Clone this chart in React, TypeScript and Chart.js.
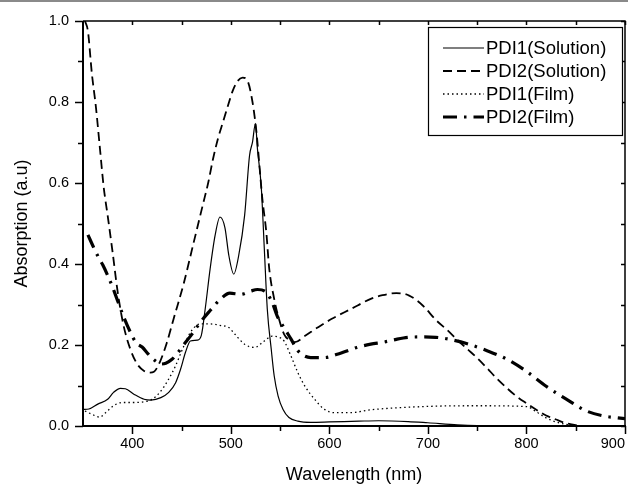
import React, { useEffect, useRef } from "react";
import { Chart, registerables } from "chart.js";

Chart.register(...registerables);

// ---- Data (wavelength in nm, absorption in a.u.) ----
const wlPdi1Sol = [350, 356, 365, 375, 381, 388, 393, 402, 412, 419, 429, 437, 444, 449, 454, 459, 466, 470, 474, 479, 484, 489, 494, 498, 503, 508, 514, 519, 522, 525, 527, 531, 534, 537, 541, 544, 548, 553, 559, 568, 581, 600, 630, 650, 680, 700, 730, 750, 800, 850, 900];
const absPdi1Sol = [0.041, 0.042, 0.054, 0.066, 0.083, 0.093, 0.092, 0.078, 0.066, 0.064, 0.07, 0.083, 0.107, 0.14, 0.182, 0.21, 0.212, 0.223, 0.289, 0.388, 0.47, 0.516, 0.49, 0.421, 0.375, 0.421, 0.52, 0.668, 0.701, 0.747, 0.685, 0.586, 0.437, 0.289, 0.19, 0.124, 0.074, 0.041, 0.021, 0.012, 0.009, 0.01, 0.012, 0.013, 0.011, 0.008, 0.003, 0.001, 0, 0, 0];

const wlPdi2Sol = [352, 355, 359, 363, 367, 371, 375, 380, 385, 391, 398, 405, 412, 418, 422, 428, 435, 442, 452, 462, 467, 472, 477, 482, 487, 492, 497, 502, 507, 512, 517, 522, 526, 529, 532, 536, 539, 544, 548, 554, 561, 565, 575, 588, 602, 622, 642, 654, 668, 681, 695, 708, 720, 730, 740, 750, 760, 770, 780, 790, 800, 810, 820, 830, 840, 850, 860, 900];
const absPdi2Sol = [1.0, 0.975, 0.87, 0.79, 0.69, 0.59, 0.52, 0.43, 0.334, 0.25, 0.19, 0.153, 0.136, 0.132, 0.134, 0.158, 0.205, 0.265, 0.35, 0.45, 0.5, 0.55, 0.6, 0.66, 0.71, 0.75, 0.79, 0.828, 0.852, 0.86, 0.852, 0.8, 0.726, 0.644, 0.561, 0.479, 0.388, 0.314, 0.272, 0.227, 0.21, 0.207, 0.222, 0.243, 0.264, 0.289, 0.314, 0.323, 0.328, 0.322, 0.297, 0.262, 0.236, 0.212, 0.19, 0.168, 0.143, 0.117, 0.094, 0.073, 0.056, 0.04, 0.026, 0.016, 0.007, 0.002, 0, 0];

const wlPdi1Film = [352, 359, 367, 373, 381, 390, 400, 410, 420, 428, 437, 444, 451, 459, 469, 479, 490, 498, 504, 514, 524, 534, 542, 549, 554, 561, 568, 575, 585, 595, 605, 622, 642, 670, 708, 750, 800, 810, 820, 830, 840, 850, 870, 900];
const absPdi1Film = [0.037, 0.029, 0.022, 0.033, 0.05, 0.058, 0.058, 0.059, 0.066, 0.083, 0.116, 0.149, 0.19, 0.231, 0.252, 0.252, 0.248, 0.243, 0.227, 0.202, 0.194, 0.21, 0.222, 0.219, 0.21, 0.173, 0.132, 0.099, 0.066, 0.041, 0.033, 0.033, 0.04, 0.045, 0.049, 0.05, 0.048, 0.035, 0.02, 0.01, 0.004, 0.001, 0, 0];

const wlPdi2Film = [355, 360, 365, 370, 375, 380, 385, 392, 398, 404, 410, 416, 420, 425, 429, 434, 440, 446, 452, 460, 469, 479, 489, 499, 510, 520, 527, 535, 542, 547, 554, 561, 568, 581, 595, 608, 628, 642, 655, 668, 681, 695, 708, 720, 740, 760, 780, 800, 820, 840, 860, 880, 890, 900];
const absPdi2Film = [0.472, 0.445, 0.42, 0.398, 0.372, 0.343, 0.31, 0.265, 0.232, 0.205, 0.195, 0.178, 0.168, 0.158, 0.153, 0.155, 0.164, 0.18, 0.2, 0.225, 0.256, 0.285, 0.312, 0.328, 0.325, 0.333, 0.337, 0.332, 0.305, 0.272, 0.243, 0.215, 0.186, 0.169, 0.169, 0.177, 0.194, 0.202, 0.207, 0.214, 0.219, 0.22, 0.219, 0.215, 0.203, 0.186, 0.165, 0.135, 0.098, 0.067, 0.038, 0.024, 0.021, 0.018];

const seriesLabels = ["PDI1(Solution)", "PDI2(Solution)", "PDI1(Film)", "PDI2(Film)"];

// Tick values
const xLabelTicks = [350, 400, 500, 600, 700, 800, 900];
const xMajorTicks = [400, 500, 600, 700, 800, 900];
const xMinorTicks = [450, 550, 650, 750, 850];
const yMajorTicks = [0, 0.2, 0.4, 0.6, 0.8, 1.0];
const yMinorTicks = [0.1, 0.3, 0.5, 0.7, 0.9];

const FONT = "'Liberation Sans', Arial, Helvetica, sans-serif";

const toPoints = (xs: number[], ys: number[]) => xs.map((x, i) => ({ x, y: ys[i] }));

const framePlugin = {
  id: "frameTicks",
  afterDatasetsDraw(chart: any) {
    const { ctx, chartArea: a, scales } = chart;
    const x = scales.x;
    const y = scales.y;
    ctx.save();
    ctx.strokeStyle = "#000";
    ctx.lineCap = "butt";
    ctx.lineWidth = 1.5;
    ctx.beginPath();
    ctx.moveTo(a.left, a.top);
    ctx.lineTo(a.right, a.top);
    ctx.lineTo(a.right, a.bottom);
    ctx.stroke();
    ctx.lineWidth = 2;
    ctx.beginPath();
    ctx.moveTo(a.left, a.top);
    ctx.lineTo(a.left, a.bottom);
    ctx.lineTo(a.right + 1, a.bottom);
    ctx.stroke();

    ctx.lineWidth = 1.5;
    ctx.beginPath();
    xMajorTicks.forEach((v) => {
      const px = Math.round(x.getPixelForValue(v)) + 0.5;
      ctx.moveTo(px, a.bottom);
      ctx.lineTo(px, a.bottom + 8);
      ctx.moveTo(px, a.top);
      ctx.lineTo(px, a.top + 4);
    });
    xMinorTicks.forEach((v) => {
      const px = Math.round(x.getPixelForValue(v)) + 0.5;
      ctx.moveTo(px, a.bottom);
      ctx.lineTo(px, a.bottom + 5);
      ctx.moveTo(px, a.top);
      ctx.lineTo(px, a.top + 4);
    });
    yMajorTicks.forEach((v) => {
      const py = Math.round(y.getPixelForValue(v)) + 0.5;
      ctx.moveTo(a.left, py);
      ctx.lineTo(a.left - 8, py);
      ctx.moveTo(a.right, py);
      ctx.lineTo(a.right - 4, py);
    });
    yMinorTicks.forEach((v) => {
      const py = Math.round(y.getPixelForValue(v)) + 0.5;
      ctx.moveTo(a.left, py);
      ctx.lineTo(a.left - 5, py);
      ctx.moveTo(a.right, py);
      ctx.lineTo(a.right - 4, py);
    });
    ctx.stroke();

    ctx.fillStyle = "#8a8a8a";
    ctx.fillRect(0, 0, chart.width, 2);
    ctx.restore();
  },
  afterDraw(chart: any) {
    const { ctx, chartArea: a } = chart;
    const boxL = a.right - 197;
    const boxT = a.top + 6;
    const boxW = 194;
    const boxH = 108;
    ctx.save();
    ctx.fillStyle = "#fff";
    ctx.fillRect(boxL, boxT, boxW, boxH);
    ctx.strokeStyle = "#000";
    ctx.lineWidth = 1.2;
    ctx.strokeRect(boxL + 0.5, boxT + 0.5, boxW, boxH);
    ctx.font = `18.5px ${FONT}`;
    ctx.textBaseline = "middle";
    ctx.textAlign = "left";
    ctx.fillStyle = "#000";
    chart.data.datasets.forEach((ds: any, i: number) => {
      const rowY = boxT + 21 + i * 23;
      ctx.beginPath();
      ctx.lineWidth = ds.borderWidth;
      ctx.setLineDash(ds.borderDash || []);
      ctx.moveTo(boxL + 15, rowY);
      ctx.lineTo(boxL + 56, rowY);
      ctx.stroke();
      ctx.setLineDash([]);
      ctx.fillText(ds.label, boxL + 58, rowY + 1);
    });
    ctx.restore();
  },
};

export default function App() {
  const canvasRef = useRef<HTMLCanvasElement | null>(null);

  useEffect(() => {
    if (!canvasRef.current) return;
    const common = {
      borderColor: "#000",
      backgroundColor: "#000",
      pointRadius: 0,
      fill: false,
      cubicInterpolationMode: "monotone" as const,
      borderCapStyle: "butt" as const,
    };
    const chart = new Chart(canvasRef.current, {
      type: "line",
      data: {
        datasets: [
          { ...common, label: seriesLabels[0], data: toPoints(wlPdi1Sol, absPdi1Sol), borderWidth: 1.2, borderDash: [] },
          { ...common, label: seriesLabels[1], data: toPoints(wlPdi2Sol, absPdi2Sol), borderWidth: 1.8, borderDash: [9, 5] },
          { ...common, label: seriesLabels[2], data: toPoints(wlPdi1Film, absPdi1Film), borderWidth: 1.3, borderDash: [1.5, 3] },
          { ...common, label: seriesLabels[3], data: toPoints(wlPdi2Film, absPdi2Film), borderWidth: 3.2, borderDash: [14, 7, 2.5, 7] },
        ],
      },
      options: {
        responsive: false,
        animation: false,
        devicePixelRatio: 1,
        layout: { padding: { top: 21, right: 3, left: 0, bottom: 0 } },
        plugins: { legend: { display: false }, tooltip: { enabled: false } },
        scales: {
          x: {
            type: "linear",
            min: 350,
            max: 900,
            grid: { display: false, drawTicks: false },
            border: { display: false },
            afterBuildTicks: (s: any) => {
              s.ticks = xLabelTicks.map((v) => ({ value: v }));
            },
            afterFit: (s: any) => {
              s.height = 58;
              s.paddingLeft = 0;
              s.paddingRight = 0;
            },
            ticks: {
              color: "#000",
              padding: 9,
              align: "inner",
              maxRotation: 0,
              autoSkip: false,
              font: { family: FONT, size: 14.5 },
              callback: (v: any) => (Number(v) === 350 ? "" : String(v)),
            },
            title: {
              display: true,
              text: "Wavelength (nm)",
              color: "#000",
              font: { family: FONT, size: 18, lineHeight: 1 },
              padding: { top: 0, bottom: 0 },
            },
          },
          y: {
            type: "linear",
            min: 0,
            max: 1,
            grid: { display: false, drawTicks: false },
            border: { display: false },
            afterBuildTicks: (s: any) => {
              s.ticks = yMajorTicks.map((v) => ({ value: v }));
            },
            afterFit: (s: any) => {
              s.width = 83;
              s.paddingTop = 0;
              s.paddingBottom = 0;
            },
            ticks: {
              color: "#000",
              padding: 14,
              autoSkip: false,
              font: { family: FONT, size: 14.5 },
              callback: (v: any) => Number(v).toFixed(1),
            },
            title: {
              display: true,
              text: "Absorption (a.u)",
              color: "#000",
              font: { family: FONT, size: 18, lineHeight: 1 },
              padding: { top: 13, bottom: 0 },
            },
          },
        },
      },
      plugins: [framePlugin],
    });
    return () => chart.destroy();
  }, []);

  return (
    <div style={{ position: "absolute", left: 0, top: 0, width: 628, height: 484, background: "#fff" }}>
      <canvas ref={canvasRef} width={628} height={484} style={{ display: "block" }} />
    </div>
  );
}
